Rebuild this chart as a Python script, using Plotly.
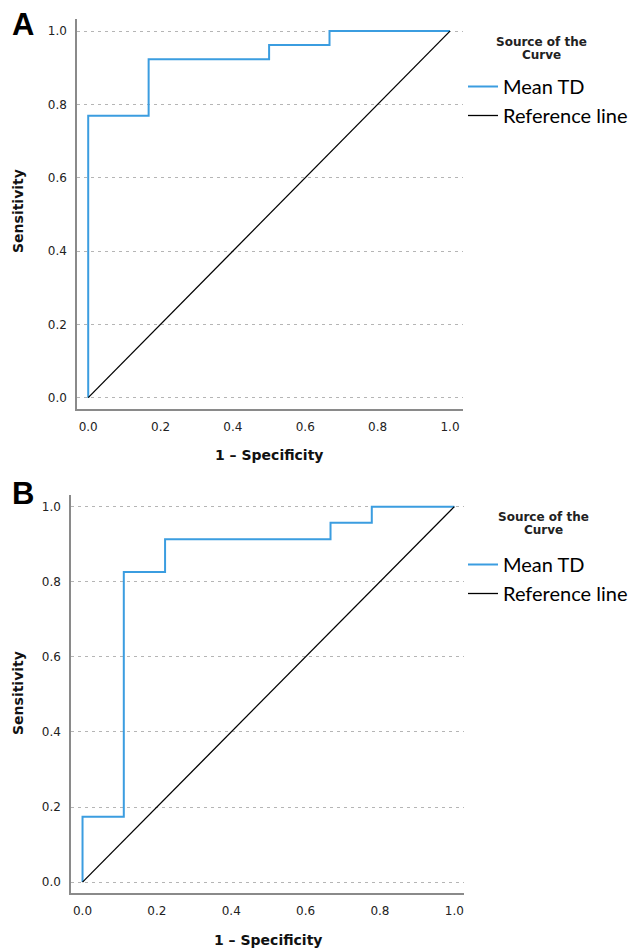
import plotly.graph_objects as go

# ---- data ----
fpr_a = [0.0, 0.0, 0.167, 0.5, 0.667, 1.0]
tpr_a = [0.0, 0.769, 0.923, 0.962, 1.0, 1.0]
fpr_b = [0.0, 0.0, 0.111, 0.222, 0.667, 0.778, 1.0]
tpr_b = [0.0, 0.174, 0.826, 0.913, 0.957, 1.0, 1.0]
ref_x = [0.0, 1.0]
ref_y = [0.0, 1.0]
tick_vals = [0.0, 0.2, 0.4, 0.6, 0.8, 1.0]
tick_text = ["0.0", "0.2", "0.4", "0.6", "0.8", "1.0"]
series_names = ["Mean TD", "Reference line"]
panel_labels = ["A", "B"]
legend_title_lines = ["Source of the", "Curve"]

W, H = 633, 950
BLUE = "#3b9de0"

def px(x):
    return x / W

def py(y):
    return 1 - y / H

fig = go.Figure()
fig.add_trace(go.Scatter(x=fpr_a, y=tpr_a, mode="lines", line=dict(color=BLUE, width=2, shape="hv"),
                         name=series_names[0], xaxis="x", yaxis="y", legend="legend"))
fig.add_trace(go.Scatter(x=ref_x, y=ref_y, mode="lines", line=dict(color="black", width=1.3),
                         name=series_names[1], xaxis="x", yaxis="y", legend="legend"))
fig.add_trace(go.Scatter(x=fpr_b, y=tpr_b, mode="lines", line=dict(color=BLUE, width=2, shape="hv"),
                         name=series_names[0], xaxis="x2", yaxis="y2", legend="legend2"))
fig.add_trace(go.Scatter(x=ref_x, y=ref_y, mode="lines", line=dict(color="black", width=1.3),
                         name=series_names[1], xaxis="x2", yaxis="y2", legend="legend2"))

tickfont = dict(family="DejaVu Sans", size=12, color="#222")

def xax(domain, rng, anchor):
    return dict(domain=domain, range=rng, anchor=anchor, tickvals=tick_vals, ticktext=tick_text,
                showgrid=False, zeroline=False, showline=True, linecolor="#8a8a8a", linewidth=1.5,
                ticks="outside", ticklen=6, tickcolor="rgba(0,0,0,0)", tickfont=tickfont, fixedrange=True)

def yax(domain, rng, anchor):
    return dict(domain=domain, range=rng, anchor=anchor, tickvals=tick_vals, ticktext=tick_text,
                showgrid=True, gridcolor="#b5b5b5", gridwidth=1, griddash="3px,4px",
                zeroline=False, showline=True, linecolor="#8a8a8a", linewidth=1.5,
                ticks="outside", ticklen=6, tickcolor="rgba(0,0,0,0)", tickfont=tickfont, fixedrange=True)

legfont = dict(family="Lato", size=20, color="black")
fig.update_layout(
    width=W, height=H, margin=dict(l=0, r=0, t=0, b=0),
    plot_bgcolor="white", paper_bgcolor="white",
    xaxis=xax([px(77), px(463)], [-0.031, 1.036], "y"),
    yaxis=yax([py(409), py(19)], [-0.031, 1.033], "x"),
    xaxis2=xax([px(71), px(464)], [-0.031, 1.026], "y2"),
    yaxis2=yax([py(893), py(495)], [-0.029, 1.031], "x2"),
    legend=dict(x=px(463), y=py(67), xanchor="left", yanchor="top", bgcolor="rgba(0,0,0,0)",
                font=legfont, itemwidth=30),
    legend2=dict(x=px(463), y=py(545), xanchor="left", yanchor="top", bgcolor="rgba(0,0,0,0)",
                 font=legfont, itemwidth=30),
    showlegend=True,
)

ann = []
for lab, (lx, ly) in zip(panel_labels, [(10, 24), (10, 493)]):
    ann.append(dict(text="<b>%s</b>" % lab, x=px(lx), y=py(ly), xref="paper", yref="paper",
                    xanchor="left", yanchor="middle", showarrow=False,
                    font=dict(family="Liberation Sans", size=31, color="black")))
for (tx, ty) in [(541, 42), (543, 517)]:
    for i, line in enumerate(legend_title_lines):
        ann.append(dict(text="<b>%s</b>" % line, x=px(tx), y=py(ty + 13 * i), xref="paper", yref="paper",
                        xanchor="center", yanchor="middle", showarrow=False,
                        font=dict(family="DejaVu Sans", size=12, color="#222")))
for (tx, ty) in [(269, 455), (268, 940)]:
    ann.append(dict(text="<b>1 – Specificity</b>", x=px(tx), y=py(ty), xref="paper", yref="paper",
                    xanchor="center", yanchor="middle", showarrow=False,
                    font=dict(family="DejaVu Sans", size=14, color="#111")))
for (tx, ty) in [(18, 211), (18, 693)]:
    ann.append(dict(text="<b>Sensitivity</b>", x=px(tx), y=py(ty), xref="paper", yref="paper",
                    xanchor="center", yanchor="middle", showarrow=False, textangle=-90,
                    font=dict(family="DejaVu Sans", size=14, color="#111")))
fig.update_layout(annotations=ann)

fig.write_html("out.html", config={"displayModeBar": False},
               post_script="document.body.style.margin='0';document.body.style.overflow='hidden';"
                           "document.documentElement.style.overflow='hidden';")
